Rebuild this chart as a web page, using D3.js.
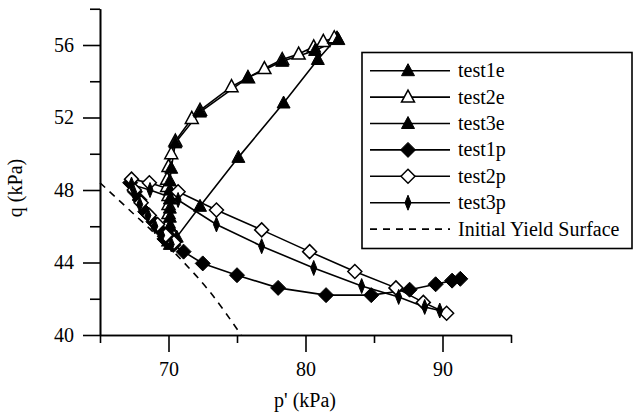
<!DOCTYPE html>
<html>
<head>
<meta charset="utf-8">
<script src="https://cdn.jsdelivr.net/npm/d3@7"></script>
<style>
  body { margin: 0; background: #fff; }
  text { font-family: "Liberation Serif", "Times New Roman", serif; fill: #000; }
</style>
</head>
<body>
<div id="container"></div>
<script>
// series values: [p', q] in kPa
const test1e = [[70.6, 45.4], [72.3, 47.1], [75.1, 49.8], [78.4, 52.8], [80.9, 55.2], [82.3, 56.4]];
const test2e = [[70.0, 45.2], [70.0, 45.7], [70.0, 46.2], [70.0, 46.7], [70.0, 47.2], [70.0, 47.7],
  [69.9, 48.2], [69.9, 48.6], [70.0, 49.3], [70.2, 50.0], [70.5, 50.7], [71.7, 51.95], [72.3, 52.4],
  [74.6, 53.7], [75.8, 54.2], [77.0, 54.7], [78.3, 55.2], [79.5, 55.5], [80.6, 55.9], [81.3, 56.2], [82.1, 56.4]];
const test3e = [[70.1, 45.0], [70.1, 45.5], [70.1, 46.0], [70.1, 46.5], [70.1, 47.0], [70.1, 47.5],
  [70.1, 48.0], [70.1, 48.5], [70.2, 49.2], [70.5, 50.6], [72.3, 52.3], [75.8, 54.2], [78.3, 55.1],
  [80.7, 55.7], [82.4, 56.3]];
const test1p = [[67.2, 48.4], [67.55, 47.9], [67.9, 47.45], [68.3, 46.8], [68.9, 46.25], [69.25, 45.9],
  [69.7, 45.3], [70.35, 44.97], [71.1, 44.6], [72.5, 43.95], [75.0, 43.3], [78.0, 42.6], [81.5, 42.2],
  [84.8, 42.2], [87.6, 42.5], [89.5, 42.8], [90.7, 43.0], [91.3, 43.1]];
const test2p = [[70.4, 45.1], [69.8, 45.5], [69.2, 46.1], [68.6, 46.6], [68.0, 47.3], [67.5, 48.0],
  [67.3, 48.6], [68.6, 48.4], [70.7, 47.9], [73.5, 46.9], [76.8, 45.8], [80.3, 44.6], [83.6, 43.5],
  [86.6, 42.6], [88.6, 41.8], [90.3, 41.2]];
const test3p = [[70.2, 45.0], [69.5, 45.5], [69.0, 46.0], [68.5, 46.6], [67.9, 47.2], [67.5, 47.8],
  [67.3, 48.3], [68.65, 48.0], [70.7, 47.45], [73.5, 46.1], [76.8, 44.9], [80.6, 43.7], [84.1, 42.7],
  [86.8, 42.1], [88.7, 41.55], [89.8, 41.35]];
const yieldSurface = [[65, 48.4], [67, 47.0], [69, 45.6], [71, 44.1], [73, 42.4], [75.3, 40.0]];

const seriesNames = ["test1e", "test2e", "test3e", "test1p", "test2p", "test3p", "Initial Yield Surface"];
const xMajorTicks = [70, 80, 90];
const xMinorTicks = [65, 75, 85, 95];
const yMajorTicks = [40, 44, 48, 52, 56];
const yMinorTicks = [42, 46, 50, 54, 58];

const width = 636, height = 416;
const x = d3.scaleLinear().domain([65, 95]).range([100, 511]);
const y = d3.scaleLinear().domain([40, 58]).range([335, 8.75]);

const svg = d3.select("#container").append("svg")
  .attr("width", width).attr("height", height);

// marker shapes
const markers = {
  triFill: g => g.append("path").attr("d", "M0,-7L6.5,5L-6.5,5Z").attr("fill", "#000").attr("stroke", "#000").attr("stroke-width", 1),
  triOpen: g => g.append("path").attr("d", "M0,-7L6.5,5L-6.5,5Z").attr("fill", "#fff").attr("stroke", "#000").attr("stroke-width", 1.5),
  triHalf: g => g.append("path").attr("d", "M0,-7L6.5,5L-6.5,5Z").attr("fill", "#000").attr("stroke", "#000").attr("stroke-width", 1),
  diaFill: g => g.append("path").attr("d", "M0,-7.5L7.5,0L0,7.5L-7.5,0Z").attr("fill", "#000").attr("stroke", "#000").attr("stroke-width", 1),
  diaOpen: g => g.append("path").attr("d", "M0,-7L7,0L0,7L-7,0Z").attr("fill", "#fff").attr("stroke", "#000").attr("stroke-width", 1.5),
  diaThin: g => g.append("path").attr("d", "M0,-7.5L3,0L0,7.5L-3,0Z").attr("fill", "#000").attr("stroke", "#000").attr("stroke-width", 1)
};

const series = [
  { name: seriesNames[0], data: test1e, marker: "triFill" },
  { name: seriesNames[1], data: test2e, marker: "triOpen" },
  { name: seriesNames[2], data: test3e, marker: "triHalf" },
  { name: seriesNames[3], data: test1p, marker: "diaFill" },
  { name: seriesNames[4], data: test2p, marker: "diaOpen" },
  { name: seriesNames[5], data: test3p, marker: "diaThin" }
];

const line = d3.line().x(d => x(d[0])).y(d => y(d[1]));

// yield surface (dashed)
svg.append("path")
  .datum(yieldSurface)
  .attr("d", d3.line().curve(d3.curveMonotoneX).x(d => x(d[0])).y(d => y(d[1])))
  .attr("fill", "none").attr("stroke", "#000").attr("stroke-width", 1.6)
  .attr("stroke-dasharray", "7,6");

// series lines + markers
series.forEach(s => {
  svg.append("path").datum(s.data).attr("d", line)
    .attr("fill", "none").attr("stroke", "#000").attr("stroke-width", 1.6);
});
series.forEach(s => {
  svg.append("g").selectAll("g").data(s.data).join("g")
    .attr("transform", d => `translate(${x(d[0])},${y(d[1])})`)
    .each(function() { markers[s.marker](d3.select(this)); });
});

// axes
function styleAxis(g) {
  g.selectAll("path.domain").attr("stroke", "#000").attr("stroke-width", 1.6);
  g.selectAll(".tick line").attr("stroke", "#000").attr("stroke-width", 1.6);
  g.selectAll("text").style("font-family", "'Liberation Serif', serif").style("font-size", "20px").attr("fill", "#000");
}

svg.append("g").attr("transform", `translate(0,${y(40)})`)
  .call(d3.axisBottom(x).tickValues(xMinorTicks).tickSize(8).tickSizeOuter(0).tickFormat(""))
  .call(styleAxis);
svg.append("g").attr("transform", `translate(0,${y(40)})`)
  .call(d3.axisBottom(x).tickValues(xMajorTicks).tickSize(17).tickSizeOuter(0).tickPadding(10).tickFormat(d3.format("d")))
  .call(styleAxis);

svg.append("g").attr("transform", `translate(${x(65)},0)`)
  .call(d3.axisLeft(y).tickValues(yMinorTicks).tickSize(10).tickSizeOuter(0).tickFormat(""))
  .call(styleAxis);
svg.append("g").attr("transform", `translate(${x(65)},0)`)
  .call(d3.axisLeft(y).tickValues(yMajorTicks).tickSize(17).tickSizeOuter(0).tickPadding(9).tickFormat(d3.format("d")))
  .call(styleAxis);

// axis titles
svg.append("text")
  .attr("x", 305).attr("y", 407)
  .attr("text-anchor", "middle").style("font-size", "20px")
  .text("p' (kPa)");
svg.append("text")
  .attr("transform", "translate(22,188) rotate(-90)")
  .attr("text-anchor", "middle").style("font-size", "20px")
  .text("q (kPa)");

// legend
const legend = svg.append("g");
legend.append("rect")
  .attr("x", 362).attr("y", 52.5).attr("width", 270).attr("height", 196)
  .attr("fill", "#fff").attr("stroke", "#000").attr("stroke-width", 1.6);

const legendRows = [...series.map(s => ({ name: s.name, marker: s.marker })), { name: seriesNames[6], marker: null }];
legendRows.forEach((r, i) => {
  const cy = 70.7 + i * 26.4;
  legend.append("line")
    .attr("x1", 370).attr("x2", 450).attr("y1", cy).attr("y2", cy)
    .attr("stroke", "#000").attr("stroke-width", 1.6)
    .attr("stroke-dasharray", r.marker ? null : "7,6");
  if (r.marker) {
    const g = legend.append("g").attr("transform", `translate(408,${cy})`);
    markers[r.marker](g);
  }
  legend.append("text")
    .attr("x", 458).attr("y", cy).attr("dy", "0.32em")
    .style("font-size", "20px")
    .text(r.name);
});
</script>
</body>
</html>
